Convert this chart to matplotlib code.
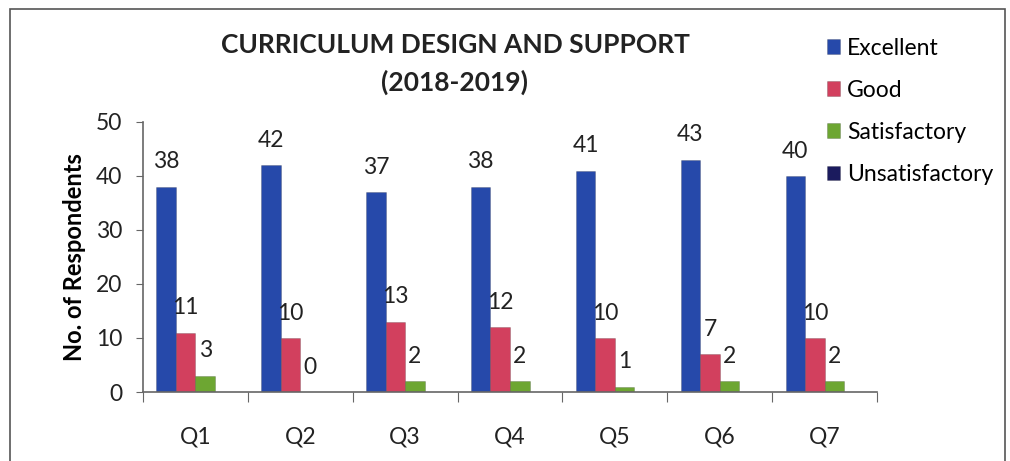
import matplotlib
matplotlib.use('Agg')
import matplotlib.pyplot as plt
from matplotlib.patches import Rectangle
import numpy as np

plt.rcParams['font.family'] = ['Lato', 'DejaVu Sans']

# Data
questions = ['Q1', 'Q2', 'Q3', 'Q4', 'Q5', 'Q6', 'Q7']
excellent = [38, 42, 37, 38, 41, 43, 40]
good = [11, 10, 13, 12, 10, 7, 10]
satisfactory = [3, 0, 2, 2, 1, 2, 2]
unsatisfactory = [0, 0, 0, 0, 0, 0, 0]

series = [('Excellent', excellent, '#2649aa', True),
          ('Good', good, '#d2405e', True),
          ('Satisfactory', satisfactory, '#6da632', True),
          ('Unsatisfactory', unsatisfactory, '#1b1b5e', False)]

fig = plt.figure(figsize=(10.1, 4.61), dpi=100)
fig.patch.set_facecolor('white')

# outer chart border
fig.add_artist(Rectangle((10 / 1010, -0.05), 995 / 1010, 1.05 - 9 / 461,
                         transform=fig.transFigure, fill=False,
                         edgecolor='#555555', linewidth=1.2))

ax = fig.add_axes([143 / 1010, 1 - 392 / 461, (877 - 143) / 1010, (392 - 122) / 461])

x = np.arange(len(questions))
w = 0.186
handles = []
for i, (name, vals, col, show) in enumerate(series):
    pos = x + (i - 1.5) * w
    bars = ax.bar(pos, vals, w, color=col, edgecolor='#00000033', linewidth=0.6, label=name)
    handles.append(bars)
    if show:
        for xp, v in zip(pos, vals):
            ax.annotate(str(v), (xp, v), xytext=(0, 18), textcoords='offset points',
                        ha='center', va='center', fontsize=16.5, color='#222222')

ax.set_xlim(-0.5, 6.5)
ax.set_ylim(0, 50)
ax.set_yticks([0, 10, 20, 30, 40, 50])
ax.tick_params(axis='y', labelsize=16.5, length=5, pad=10, color='#666666', labelcolor='#222222')

ax.set_xticks(np.arange(-0.5, 7, 1))
ax.set_xticklabels([])
ax.tick_params(axis='x', which='major', length=7, direction='out', color='#666666')
ax.set_xticks(x, minor=True)
ax.set_xticklabels(questions, minor=True)
ax.tick_params(axis='x', which='minor', length=0, pad=25, labelsize=16.5, labelcolor='#222222')

for s in ['top', 'right']:
    ax.spines[s].set_visible(False)
for s in ['left', 'bottom']:
    ax.spines[s].set_color('#666666')
    ax.spines[s].set_linewidth(1.2)

ax.set_ylabel('No. of Respondents', fontsize=17, fontweight='bold', labelpad=7)

fig.text(455 / 1010, 1 - 45 / 461, 'CURRICULUM DESIGN AND SUPPORT', ha='center', va='center',
         fontsize=19, fontweight='bold', color='#222222')
fig.text(455 / 1010, 1 - 82 / 461, '(2018-2019)', ha='center', va='center',
         fontsize=19, fontweight='bold', color='#222222')

fig.legend(handles=handles, loc='upper left', bbox_to_anchor=(806 / 1010, 1 - 17 / 461),
           frameon=False, fontsize=16.5, handlelength=0.6, handleheight=0.6,
           handletextpad=0.3, labelspacing=0.92)

fig.savefig('out.png', dpi=100)
